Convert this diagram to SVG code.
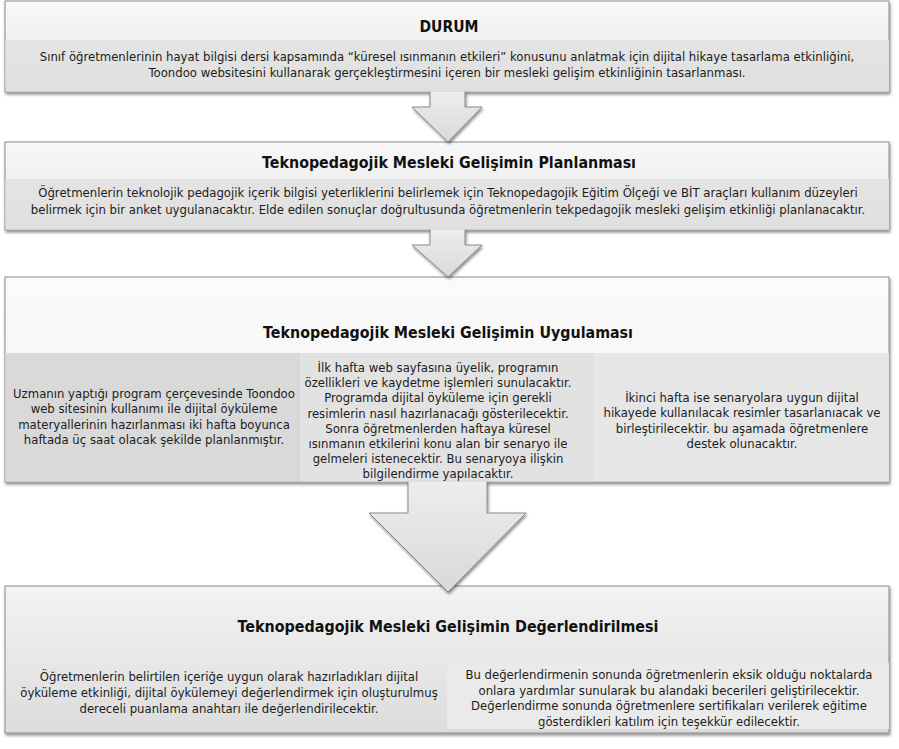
<svg xmlns="http://www.w3.org/2000/svg" width="899" height="749" viewBox="0 0 899 749">
  <defs>
    <filter id="shadow" x="-5%" y="-10%" width="110%" height="130%">
      <feDropShadow dx="1" dy="2" stdDeviation="1.4" flood-color="#000" flood-opacity="0.45"/>
    </filter>
    <linearGradient id="headGrad" x1="0" y1="0" x2="0" y2="1">
      <stop offset="0" stop-color="#f8f8f8"/>
      <stop offset="1" stop-color="#e6e6e6"/>
    </linearGradient>
    <linearGradient id="paleGrad" x1="0" y1="0" x2="0" y2="1">
      <stop offset="0" stop-color="#fbfbfb"/>
      <stop offset="1" stop-color="#f2f2f2"/>
    </linearGradient>
    <linearGradient id="lowGrad" x1="0" y1="0" x2="0" y2="1">
      <stop offset="0" stop-color="#f3f3f3"/>
      <stop offset="1" stop-color="#dcdcdc"/>
    </linearGradient>
    <linearGradient id="bandGrad" x1="0" y1="0" x2="0" y2="1">
      <stop offset="0" stop-color="#e4e4e4"/>
      <stop offset="1" stop-color="#e0e0e0"/>
    </linearGradient>
    <linearGradient id="arrowGrad" x1="0" y1="0" x2="0" y2="1">
      <stop offset="0" stop-color="#ededed"/>
      <stop offset="1" stop-color="#d9d9d9"/>
    </linearGradient>
    <style>
      .frame { stroke: #8c8c8c; stroke-width: 1; filter: url(#shadow); }
      .title { font-family: "DejaVu Sans", "Liberation Sans", sans-serif; font-weight: bold; font-size: 15px; fill: #111; text-anchor: middle; }
      .body { font-family: "DejaVu Sans", "Liberation Sans", sans-serif; font-size: 11.7px; fill: #1c1c1c; text-anchor: middle; }
      .arrow { fill: url(#arrowGrad); stroke: #8a8a8a; stroke-width: 1; stroke-linejoin: miter; filter: url(#shadow); }
    </style>
  </defs>

  <rect width="899" height="749" fill="#ffffff"/>

  <!-- Situation box -->
  <g id="node-durum">
    <rect class="frame" x="5" y="1" width="884" height="91" fill="url(#headGrad)"/>
    <rect x="5.5" y="40" width="883.5" height="51.5" fill="url(#bandGrad)"/>
    <text class="title" x="449" y="32" textLength="59" lengthAdjust="spacingAndGlyphs">DURUM</text>
    <text class="body" x="447" y="61">Sınıf öğretmenlerinin hayat bilgisi dersi kapsamında “küresel ısınmanın etkileri” konusunu anlatmak için dijital hikaye tasarlama etkinliğini,</text>
    <text class="body" x="447" y="77">Toondoo websitesini kullanarak gerçekleştirmesini içeren bir mesleki gelişim etkinliğinin tasarlanması.</text>
  </g>

  <!-- Planning box -->
  <g id="node-planlama">
    <rect class="frame" x="5" y="142" width="884" height="88" fill="url(#headGrad)"/>
    <rect x="5.5" y="179" width="883.5" height="50.5" fill="url(#bandGrad)"/>
    <text class="title" x="449" y="168" textLength="374" lengthAdjust="spacingAndGlyphs">Teknopedagojik Mesleki Gelişimin Planlanması</text>
    <text class="body" x="448" y="197">Öğretmenlerin teknolojik pedagojik içerik bilgisi yeterliklerini belirlemek için Teknopedagojik Eğitim Ölçeği ve BİT araçları kullanım düzeyleri</text>
    <text class="body" x="448" y="214">belirmek için bir anket uygulanacaktır. Elde edilen sonuçlar doğrultusunda öğretmenlerin tekpedagojik mesleki gelişim etkinliği planlanacaktır.</text>
  </g>

  <!-- Implementation box -->
  <g id="node-uygulama">
    <rect class="frame" x="5" y="277" width="884" height="205" fill="url(#paleGrad)"/>
    <rect x="5.5" y="353" width="294.5" height="128.5" fill="#d9d9d9"/>
    <rect x="300" y="353" width="294" height="128.5" fill="#e2e2e2"/>
    <rect x="594" y="353" width="295" height="128.5" fill="#e6e6e6"/>
    <text class="title" x="448" y="338" textLength="370" lengthAdjust="spacingAndGlyphs">Teknopedagojik Mesleki Gelişimin Uygulaması</text>
    <text class="body" x="154" y="398">Uzmanın yaptığı program çerçevesinde Toondoo</text>
    <text class="body" x="154" y="413.4">web sitesinin kullanımı ile dijital öyküleme</text>
    <text class="body" x="154" y="428.8">materyallerinin hazırlanması iki hafta boyunca</text>
    <text class="body" x="154" y="444.2">haftada üç saat olacak şekilde planlanmıştır.</text>
    <text class="body" x="438" y="372">İlk hafta web sayfasına üyelik, programın</text>
    <text class="body" x="438" y="387.2">özellikleri ve kaydetme işlemleri sunulacaktır.</text>
    <text class="body" x="438" y="402.4">Programda dijital öyküleme için gerekli</text>
    <text class="body" x="438" y="417.6">resimlerin nasıl hazırlanacağı gösterilecektir.</text>
    <text class="body" x="438" y="432.8">Sonra öğretmenlerden haftaya küresel</text>
    <text class="body" x="438" y="448">ısınmanın etkilerini konu alan bir senaryo ile</text>
    <text class="body" x="438" y="463.2">gelmeleri istenecektir. Bu senaryoya ilişkin</text>
    <text class="body" x="438" y="478.4">bilgilendirme yapılacaktır.</text>
    <text class="body" x="742" y="402">İkinci hafta ise senaryolara uygun dijital</text>
    <text class="body" x="742" y="417.4">hikayede kullanılacak resimler tasarlanıacak ve</text>
    <text class="body" x="742" y="432.8">birleştirilecektir. bu aşamada öğretmenlere</text>
    <text class="body" x="742" y="448.2">destek olunacaktır.</text>
  </g>

  <!-- Evaluation box -->
  <g id="node-degerlendirme">
    <rect class="frame" x="5" y="586" width="884" height="147" fill="url(#lowGrad)"/>
    <rect x="447" y="663" width="442" height="66" fill="#eaeaea"/>
    <text class="title" x="448" y="632" textLength="421" lengthAdjust="spacingAndGlyphs">Teknopedagojik Mesleki Gelişimin Değerlendirilmesi</text>
    <text class="body" x="229" y="681">Öğretmenlerin belirtilen içeriğe uygun olarak hazırladıkları dijital</text>
    <text class="body" x="229" y="697">öyküleme etkinliği, dijital öykülemeyi değerlendirmek için oluşturulmuş</text>
    <text class="body" x="229" y="713">dereceli puanlama anahtarı ile değerlendirilecektir.</text>
    <text class="body" x="669" y="679">Bu değerlendirmenin sonunda öğretmenlerin eksik olduğu noktalarda</text>
    <text class="body" x="669" y="694.5">onlara yardımlar sunularak bu alandaki becerileri geliştirilecektir.</text>
    <text class="body" x="669" y="710">Değerlendirme sonunda öğretmenlere sertifikaları verilerek eğitime</text>
    <text class="body" x="669" y="725.5">gösterdikleri katılım için teşekkür edilecektir.</text>
  </g>

  <!-- Down arrows linking the stages -->
  <g id="connectors">
    <path class="arrow" d="M430,91.5 V107 H412 L448,142 L482,107 H465 V91.5"/>
    <path class="arrow" d="M430,229.5 V245 H412 L448,277 L482,245 H465 V229.5"/>
    <path class="arrow" d="M408,481.5 V513 H369 L448,592 L526,513 H487 V481.5"/>
  </g>
</svg>
